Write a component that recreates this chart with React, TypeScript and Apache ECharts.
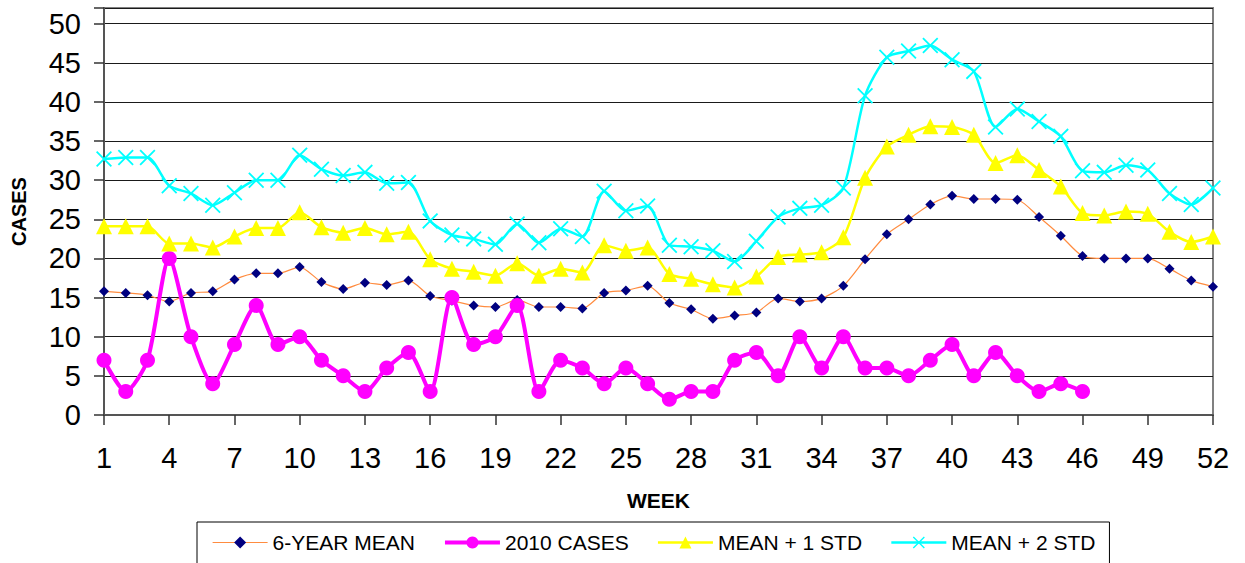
import React, { useEffect, useRef } from "react";
import * as echarts from "echarts";

const weeks = [
  "1", "2", "3", "4", "5", "6", "7", "8", "9", "10", "11", "12", "13",
  "14", "15", "16", "17", "18", "19", "20", "21", "22", "23", "24", "25", "26",
  "27", "28", "29", "30", "31", "32", "33", "34", "35", "36", "37", "38", "39",
  "40", "41", "42", "43", "44", "45", "46", "47", "48", "49", "50", "51", "52",
];

const mean6 = [
  15.8, 15.6, 15.3, 14.5, 15.6, 15.8, 17.3, 18.1, 18.1, 18.9, 17.0, 16.1, 16.9, 16.6,
  17.2, 15.2, 14.6, 14.0, 13.8, 14.7, 13.8, 13.8, 13.6, 15.6, 15.9, 16.5, 14.3,
  13.5, 12.3, 12.7, 13.1, 14.9, 14.5, 14.9, 16.5, 19.9, 23.1, 25.0, 26.9, 28.0,
  27.6, 27.6, 27.5, 25.3, 22.9, 20.3, 20.0, 20.0, 20.0, 18.7, 17.2, 16.4,
];

const cases2010 = [
  7, 3, 7, 20, 10, 4, 9, 14, 9, 10, 7, 5, 3, 6,
  8, 3, 15, 9, 10, 14, 3, 7, 6, 4, 6, 4, 2,
  3, 3, 7, 8, 5, 10, 6, 10, 6, 6, 5, 7, 9,
  5, 8, 5, 3, 4, 3,
];

const plus1 = [
  24.1, 24.1, 24.1, 21.9, 21.9, 21.4, 22.8, 23.9, 23.9, 25.9, 24.0, 23.3, 23.9, 23.1,
  23.4, 19.9, 18.7, 18.3, 17.8, 19.4, 17.8, 18.7, 18.2, 21.7, 21.0, 21.4, 18.0,
  17.4, 16.7, 16.3, 17.7, 20.2, 20.5, 20.8, 22.7, 30.3, 34.3, 35.8, 36.9, 36.8,
  35.8, 32.2, 33.2, 31.3, 29.2, 25.8, 25.5, 26.0, 25.7, 23.4, 22.1, 22.8,
];

const plus2 = [
  32.7, 32.9, 32.9, 29.3, 28.3, 26.8, 28.4, 30.0, 30.0, 33.2, 31.4, 30.6, 31.0, 29.6,
  29.7, 24.8, 23.0, 22.5, 21.8, 24.4, 22.0, 23.8, 22.8, 28.6, 26.1, 26.7, 21.7,
  21.5, 21.0, 19.6, 22.2, 25.3, 26.4, 26.8, 29.0, 40.8, 45.7, 46.5, 47.2, 45.4,
  43.9, 36.8, 39.1, 37.5, 35.6, 31.2, 31.0, 31.9, 31.3, 28.3, 26.9, 29.0,
];

const seriesNames = ["6-YEAR MEAN", "2010 CASES", "MEAN + 1 STD", "MEAN + 2 STD"];

const FONT = "'Liberation Sans', Arial, sans-serif";
const X_SYMBOL = "path://M0,0.8L0.8,0L5,4.2L9.2,0L10,0.8L5.8,5L10,9.2L9.2,10L5,5.8L0.8,10L0,9.2L4.2,5Z";
const SMOOTH = 0.25;

export default function App() {
  const ref = useRef<HTMLDivElement>(null);

  useEffect(() => {
    const chart = echarts.init(ref.current!, null, { renderer: "svg" });
    chart.setOption({
      animation: false,
      backgroundColor: "#ffffff",
      textStyle: { fontFamily: FONT },
      grid: {
        left: 104,
        right: 32,
        top: 8,
        bottom: 148,
        show: true,
        borderColor: "#808080",
        borderWidth: 2,
        backgroundColor: "transparent",
      },
      legend: {
        data: seriesNames,
        left: 197,
        top: 522,
        orient: "horizontal",
        itemWidth: 55,
        itemHeight: 15,
        itemGap: 28,
        padding: [10, 14, 40, 15],
        borderColor: "#000000",
        borderWidth: 1,
        lineStyle: { width: "inherit" },
        textStyle: { fontFamily: FONT, fontSize: 21, color: "#000" },
      },
      xAxis: {
        type: "category",
        data: weeks,
        boundaryGap: false,
        name: "WEEK",
        nameLocation: "middle",
        nameGap: 75,
        nameTextStyle: { fontFamily: FONT, fontSize: 21, fontWeight: "bold", color: "#000" },
        axisLine: { show: true, lineStyle: { color: "#555", width: 2 } },
        axisTick: { show: true, interval: 2, length: 10, inside: false, lineStyle: { color: "#333", width: 1.5 } },
        axisLabel: { interval: 2, fontSize: 29, margin: 28, color: "#000", fontFamily: FONT },
        splitLine: { show: false },
      },
      yAxis: {
        type: "value",
        min: 0,
        max: 52,
        interval: 5,
        name: "CASES",
        nameLocation: "middle",
        nameGap: 75,
        nameRotate: 90,
        nameTextStyle: { fontFamily: FONT, fontSize: 20, fontWeight: "bold", color: "#000" },
        axisLine: { show: true, lineStyle: { color: "#555", width: 2 } },
        axisTick: { show: true, length: 10, inside: false, lineStyle: { color: "#333", width: 1.5 } },
        axisLabel: {
          fontSize: 29,
          margin: 23,
          color: "#000",
          fontFamily: FONT,
          formatter: (v: number) => (v % 5 === 0 ? String(v) : ""),
        },
        splitLine: { show: true, lineStyle: { color: "#1a1a1a", width: 1 } },
      },
      series: [
        {
          name: seriesNames[0],
          type: "line",
          data: mean6,
          smooth: SMOOTH,
          showAllSymbol: true,
          symbol: "diamond",
          symbolSize: 10,
          lineStyle: { color: "#FF8C40", width: 1.2 },
          itemStyle: { color: "#000080", borderWidth: 0 },
        },
        {
          name: seriesNames[1],
          type: "line",
          data: cases2010,
          smooth: SMOOTH,
          showAllSymbol: true,
          symbol: "circle",
          symbolSize: 15,
          lineStyle: { color: "#FF00FF", width: 4 },
          itemStyle: { color: "#FF00FF", borderWidth: 0 },
        },
        {
          name: seriesNames[2],
          type: "line",
          data: plus1,
          smooth: SMOOTH,
          showAllSymbol: true,
          symbol: "triangle",
          symbolSize: 16,
          lineStyle: { color: "#FFFF00", width: 2.5 },
          itemStyle: { color: "#FFFF00", borderWidth: 0 },
        },
        {
          name: seriesNames[3],
          type: "line",
          data: plus2,
          smooth: SMOOTH,
          showAllSymbol: true,
          symbol: X_SYMBOL,
          symbolSize: 16,
          lineStyle: { color: "#00FFFF", width: 2.5 },
          itemStyle: { color: "#00FFFF", borderWidth: 0 },
        },
      ],
    });
    return () => chart.dispose();
  }, []);

  return (
    <div
      ref={ref}
      style={{ position: "absolute", left: 0, top: 0, width: 1245, height: 563, background: "#fff" }}
    />
  );
}
